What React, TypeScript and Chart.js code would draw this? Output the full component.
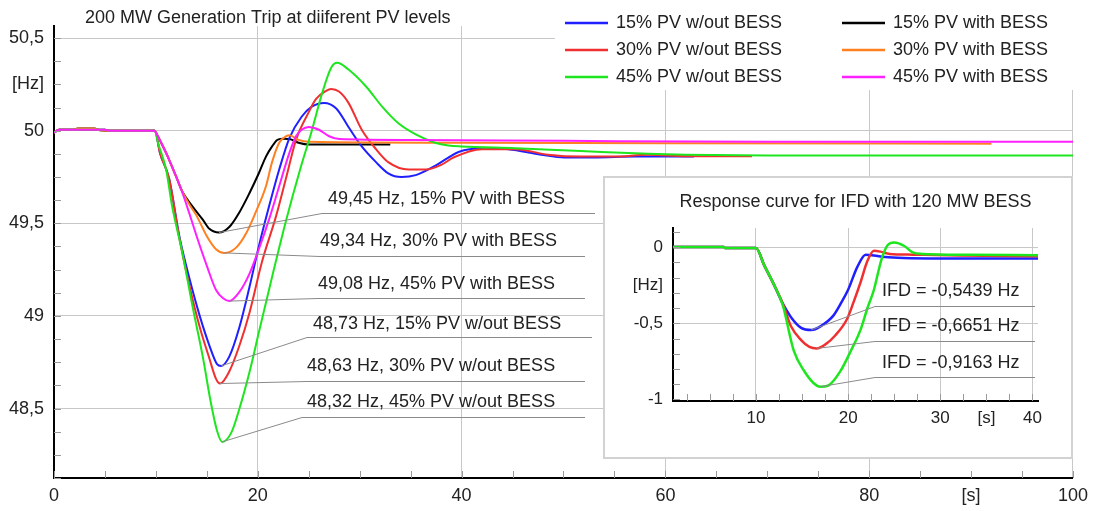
import React, { useEffect, useRef } from "react";
import { Chart, registerables } from "chart.js";
Chart.register(...registerables);

const FONT = '"Liberation Sans", Arial, Helvetica, sans-serif';
const TEXT = "#222222";

// ---------------- main chart data ----------------
const mainTitle = "200 MW Generation Trip at diiferent PV levels";
const seriesLabels = [
  "15% PV w/out BESS",
  "30% PV w/out BESS",
  "45% PV w/out BESS",
  "15% PV with BESS",
  "30% PV with BESS",
  "45% PV with BESS",
];
const seriesColors = ["#1f1fff", "#f03030", "#1ee61e", "#000000", "#ff8020", "#ff20ff"];

const t15NoBess = [0, 0.5, 5, 5.5, 9.9, 10.4, 11.3, 12.3, 13.3, 14.3, 15.25, 16.0, 16.4, 17.2, 18.2, 19.2, 20.1, 21.1, 22.1, 23.1, 24.3, 25.3, 26.5, 27.7, 28.9, 30.2, 31.6, 32.8, 34.1, 35.5, 37.4, 38.7, 39.7, 42, 44.6, 47.8, 50.1, 53, 57, 62.8];
const f15NoBess = [49.99, 50.005, 50.005, 50.0, 50.0, 49.88, 49.74, 49.43, 49.2, 49.0, 48.84, 48.74, 48.73, 48.78, 48.94, 49.16, 49.375, 49.59, 49.79, 49.96, 50.075, 50.13, 50.15, 50.12, 50.02, 49.915, 49.83, 49.77, 49.75, 49.76, 49.81, 49.855, 49.885, 49.905, 49.9, 49.87, 49.855, 49.855, 49.86, 49.86];

const t30NoBess = [0, 0.5, 5, 5.5, 9.9, 10.4, 11.3, 12.3, 13.3, 14.3, 15.25, 15.9, 16.3, 17.2, 18.2, 19.2, 20.4, 21.8, 22.8, 23.75, 25.0, 25.7, 26.7, 27.2, 28.0, 28.9, 30.2, 31.6, 32.8, 34.8, 36.5, 38.0, 39.2, 42, 45.3, 48.5, 51.7, 55, 58.3, 62, 68.5];
const f30NoBess = [49.99, 50.005, 50.005, 50.0, 50.0, 49.88, 49.74, 49.42, 49.16, 48.94, 48.77, 48.66, 48.635, 48.7, 48.84, 49.02, 49.29, 49.54, 49.75, 49.95, 50.1, 50.17, 50.215, 50.225, 50.21, 50.15, 50.005, 49.9, 49.83, 49.79, 49.79, 49.815, 49.855, 49.9, 49.9, 49.87, 49.86, 49.86, 49.87, 49.862, 49.862];

const t45NoBess = [0, 0.5, 5, 5.5, 9.9, 10.2, 11.0, 11.6, 12.6, 13.6, 14.6, 15.4, 16.0, 16.5, 17.4, 18.2, 19.2, 20.1, 21.4, 22.8, 24.2, 25.3, 26.3, 27.2, 27.8, 28.9, 30.6, 32.2, 33.8, 35.5, 37.4, 38.7, 40, 45.3, 51.7, 58.3, 62, 70, 100];
const f45NoBess = [49.99, 50.005, 50.005, 50.0, 50.0, 49.935, 49.79, 49.59, 49.34, 49.05, 48.78, 48.53, 48.38, 48.32, 48.37, 48.5, 48.7, 48.91, 49.21, 49.52, 49.8, 50.0, 50.2, 50.34, 50.366, 50.33, 50.24, 50.13, 50.04, 49.98, 49.935, 49.92, 49.915, 49.905, 49.89, 49.875, 49.87, 49.866, 49.866];

const t15Bess = [0, 0.5, 2, 2.3, 4, 4.3, 5.5, 9.9, 10.0, 11.0, 12.0, 12.6, 13.6, 14.6, 15.25, 16.2, 17.2, 18.2, 19.2, 20.1, 20.8, 21.4, 21.9, 22.4, 23.1, 24.0, 25, 33];
const f15Bess = [49.99, 50.005, 50.005, 50.012, 50.012, 50.005, 50.0, 50.0, 49.99, 49.88, 49.75, 49.67, 49.59, 49.52, 49.47, 49.45, 49.48, 49.56, 49.665, 49.77, 49.86, 49.915, 49.95, 49.957, 49.955, 49.935, 49.925, 49.925];

const t30Bess = [0, 0.5, 2, 2.3, 4, 4.3, 5.5, 9.9, 10.0, 11.0, 12.0, 12.6, 13.3, 14.0, 15.0, 15.9, 16.7, 17.9, 18.9, 19.8, 20.8, 21.4, 22.1, 22.8, 23.1, 24.0, 25, 40, 60, 92];
const f30Bess = [49.99, 50.005, 50.005, 50.012, 50.012, 50.005, 50.0, 50.0, 49.99, 49.88, 49.75, 49.67, 49.6, 49.54, 49.43, 49.36, 49.34, 49.37, 49.45, 49.56, 49.7, 49.83, 49.935, 49.97, 49.975, 49.95, 49.94, 49.935, 49.932, 49.93];

const t45Bess = [0, 0.5, 5, 5.5, 9.9, 10.0, 11.0, 12.0, 12.6, 13.3, 14.0, 15.0, 15.9, 16.6, 17.2, 18.2, 19.2, 20.1, 21.1, 22.1, 23.1, 23.75, 24.3, 25.0, 26.0, 27.0, 28.0, 35, 50, 70, 100];
const f45Bess = [49.99, 50.005, 50.005, 50.0, 50.0, 49.99, 49.88, 49.75, 49.665, 49.55, 49.43, 49.27, 49.14, 49.095, 49.08, 49.13, 49.23, 49.36, 49.52, 49.7, 49.88, 49.97, 50.005, 50.02, 50.005, 49.97, 49.955, 49.95, 49.945, 49.94, 49.94];

const mainTimes = [t15NoBess, t30NoBess, t45NoBess, t15Bess, t30Bess, t45Bess];
const mainValues = [f15NoBess, f30NoBess, f45NoBess, f15Bess, f30Bess, f45Bess];
const mainDrawOrder = [4, 3, 1, 5, 2, 0];

const xTickValues = [0, 20, 40, 60, 80, 90, 100];
const xTickLabels = ["0", "20", "40", "60", "80", "[s]", "100"];
const yTickValues = [48.5, 49, 49.5, 50, 50.25, 50.5];
const yTickLabels = ["48,5", "49", "49,5", "50", "[Hz]", "50,5"];

const minSeries = [3, 4, 5, 0, 1, 2];
const minLabels = [
  "49,45 Hz, 15% PV with BESS",
  "49,34 Hz, 30% PV with BESS",
  "49,08 Hz, 45% PV with BESS",
  "48,73 Hz, 15% PV w/out BESS",
  "48,63 Hz, 30% PV w/out BESS",
  "48,32 Hz, 45% PV w/out BESS",
];

// ---------------- inset data ----------------
const insetTitle = "Response curve for IFD with 120 MW BESS";
const insetColors = ["#1f1fff", "#f03030", "#1ee61e"];

const tIfd15 = [1, 6.5, 6.7, 10, 10.9, 11.9, 12.9, 13.8, 14.9, 16.0, 17.0, 18.4, 19.3, 20.0, 21.0, 21.9, 22.8, 24, 26, 30, 40.6];
const dIfd15 = [0, 0, -0.007, -0.007, -0.12, -0.24, -0.37, -0.46, -0.53, -0.544, -0.52, -0.45, -0.36, -0.28, -0.13, -0.05, -0.055, -0.065, -0.072, -0.075, -0.075];

const tIfd30 = [1, 6.5, 6.7, 10, 10.9, 11.9, 12.9, 13.8, 14.9, 15.8, 16.6, 17.5, 18.6, 19.9, 20.6, 21.3, 22.1, 22.8, 23.5, 24.5, 27, 32, 40.6];
const dIfd30 = [0, 0, -0.007, -0.007, -0.12, -0.24, -0.37, -0.52, -0.61, -0.655, -0.665, -0.64, -0.58, -0.47, -0.36, -0.24, -0.09, -0.025, -0.03, -0.045, -0.05, -0.055, -0.06];

const tIfd45 = [1, 6.5, 6.7, 10, 10.9, 11.9, 12.9, 14.1, 15.2, 16.3, 17.0, 17.8, 19.2, 20.3, 21.3, 22.1, 22.8, 23.6, 24.3, 25.0, 26.1, 27.0, 28, 33, 40.6];
const dIfd45 = [0, 0, -0.007, -0.007, -0.12, -0.24, -0.38, -0.68, -0.81, -0.895, -0.916, -0.91, -0.81, -0.68, -0.55, -0.4, -0.28, -0.085, 0.013, 0.03, 0.007, -0.035, -0.045, -0.05, -0.053];

const insetTimes = [tIfd15, tIfd30, tIfd45];
const insetValues = [dIfd15, dIfd30, dIfd45];
const insetDrawOrder = [2, 1, 0];
const ifdLabels = ["IFD = -0,5439 Hz", "IFD = -0,6651 Hz", "IFD = -0,9163 Hz"];

const insetXTickValues = [10, 20, 30, 35, 40];
const insetXTickLabels = ["10", "20", "30", "[s]", "40"];
const insetYTickValues = [-1, -0.5, -0.25, 0];
const insetYTickLabels = ["-1", "-0,5", "[Hz]", "0"];

// ---------------- layout (pixels) ----------------
const mainAnnotLayout = [
  { tx: 328, ty: 199, ly: 213, lx0: 322, lx1: 595 },
  { tx: 320, ty: 241, ly: 256, lx0: 320, lx1: 585 },
  { tx: 318, ty: 284, ly: 298, lx0: 318, lx1: 585 },
  { tx: 313, ty: 324, ly: 337, lx0: 307, lx1: 592 },
  { tx: 307, ty: 366, ly: 381, lx0: 307, lx1: 585 },
  { tx: 307, ty: 402, ly: 417, lx0: 302, lx1: 585 },
];
const insetAnnotLayout = [
  { tx: 277, ty: 113, ly: 128, lx0: 270, lx1: 430 },
  { tx: 277, ty: 148, ly: 163, lx0: 270, lx1: 430 },
  { tx: 277, ty: 185, ly: 199, lx0: 270, lx1: 430 },
];

function toPoints(ts: number[], vs: number[]) {
  return ts.map((t, i) => ({ x: t, y: vs[i] }));
}

function minorTicks(id: string, xFrom: number, xStep: number, xCount: number, yFrom: number, yStep: number, yCount: number) {
  return {
    id,
    afterDatasetsDraw(chart: any) {
      const { ctx, chartArea, scales } = chart;
      ctx.save();
      ctx.strokeStyle = "#9a9a9a";
      ctx.lineWidth = 1;
      ctx.beginPath();
      for (let k = 0; k < xCount; k++) {
        const px = Math.round(scales.x.getPixelForValue(xFrom + k * xStep)) + 0.5;
        ctx.moveTo(px, chartArea.bottom);
        ctx.lineTo(px, chartArea.bottom - 7);
      }
      for (let k = 0; k < yCount; k++) {
        const py = Math.round(scales.y.getPixelForValue(yFrom + k * yStep)) + 0.5;
        ctx.moveTo(chartArea.left, py);
        ctx.lineTo(chartArea.left + 7, py);
      }
      ctx.stroke();
      ctx.restore();
    },
  };
}

function minAnnotations(id: string, seriesIdx: number[], labels: string[], layout: any[]) {
  return {
    id,
    afterDatasetsDraw(chart: any) {
      const { ctx, scales } = chart;
      ctx.save();
      seriesIdx.forEach((si, k) => {
        const data = chart.data.datasets[si].data as { x: number; y: number }[];
        let m = data[0];
        data.forEach((p) => {
          if (p.y < m.y) m = p;
        });
        const px = scales.x.getPixelForValue(m.x);
        const py = scales.y.getPixelForValue(m.y);
        const L = layout[k];
        ctx.strokeStyle = "#8a8a8a";
        ctx.lineWidth = 1;
        ctx.beginPath();
        ctx.moveTo(px, py);
        ctx.lineTo(L.lx0, L.ly + 0.5);
        ctx.lineTo(L.lx1, L.ly + 0.5);
        ctx.stroke();
        ctx.fillStyle = TEXT;
        ctx.font = `18px ${FONT}`;
        ctx.textAlign = "left";
        ctx.textBaseline = "middle";
        ctx.fillText(labels[k], L.tx, L.ty);
      });
      ctx.restore();
    },
  };
}

const mainDecor = {
  id: "mainDecor",
  afterDraw(chart: any) {
    const { ctx } = chart;
    ctx.save();
    ctx.fillStyle = TEXT;
    ctx.font = `18px ${FONT}`;
    ctx.textBaseline = "middle";
    ctx.textAlign = "left";
    ctx.fillText(mainTitle, 85, 18);
    // legend box
    ctx.fillStyle = "#ffffff";
    ctx.fillRect(555, 0, 540, 90);
    const cols = [
      [0, 1, 2],
      [3, 4, 5],
    ];
    const colX = [565, 842];
    const rowY = [23, 50, 77];
    cols.forEach((col, c) => {
      col.forEach((si, r) => {
        const y = rowY[r];
        ctx.strokeStyle = chart.data.datasets[si].borderColor;
        ctx.lineWidth = 2.5;
        ctx.beginPath();
        ctx.moveTo(colX[c], y);
        ctx.lineTo(colX[c] + 43, y);
        ctx.stroke();
        ctx.fillStyle = TEXT;
        ctx.fillText(chart.data.datasets[si].label, colX[c] + 51, y);
      });
    });
    ctx.restore();
  },
};

const insetDecor = {
  id: "insetDecor",
  afterDraw(chart: any) {
    const { ctx, chartArea } = chart;
    ctx.save();
    ctx.fillStyle = TEXT;
    ctx.font = `18px ${FONT}`;
    ctx.textBaseline = "middle";
    ctx.textAlign = "center";
    ctx.fillText(insetTitle, (chartArea.left + chartArea.right) / 2, 24);
    ctx.restore();
  },
};

function makeMainConfig(): any {
  return {
    type: "line",
    data: {
      datasets: seriesLabels.map((label, i) => ({
        label,
        data: toPoints(mainTimes[i], mainValues[i]),
        borderColor: seriesColors[i],
        backgroundColor: seriesColors[i],
        borderWidth: 2,
        pointRadius: 0,
        fill: false,
        cubicInterpolationMode: "monotone",
        order: mainDrawOrder[i],
      })),
    },
    options: {
      responsive: false,
      animation: false,
      events: [],
      layout: { padding: { top: 26, right: 15, bottom: 0, left: 0 } },
      plugins: { legend: { display: false }, title: { display: false }, tooltip: { enabled: false } },
      scales: {
        x: {
          type: "linear",
          min: 0,
          max: 100,
          afterBuildTicks: (s: any) => {
            s.ticks = xTickValues.map((v) => ({ value: v }));
          },
          afterFit: (s: any) => {
            s.height = 33;
          },
          ticks: {
            autoSkip: false,
            maxRotation: 0,
            padding: 7,
            color: TEXT,
            font: { family: FONT, size: 18 },
            callback: (_v: any, i: number) => xTickLabels[i],
          },
          grid: {
            drawTicks: false,
            lineWidth: 1,
            color: (c: any) => (c.tick && (c.tick.value === 0 || c.tick.value === 90) ? "rgba(0,0,0,0)" : "#c8c8c8"),
          },
          border: { color: "#000", width: 2 },
        },
        y: {
          type: "linear",
          min: 48.125,
          max: 50.565,
          afterBuildTicks: (s: any) => {
            s.ticks = yTickValues.map((v) => ({ value: v }));
          },
          afterFit: (s: any) => {
            s.width = 54;
          },
          ticks: {
            autoSkip: false,
            padding: 10,
            color: TEXT,
            font: { family: FONT, size: 18 },
            callback: (_v: any, i: number) => yTickLabels[i],
          },
          grid: {
            drawTicks: false,
            lineWidth: 1,
            color: (c: any) => (c.tick && c.tick.value === 50.25 ? "rgba(0,0,0,0)" : "#c8c8c8"),
          },
          border: { color: "#000", width: 2 },
        },
      },
    },
    plugins: [
      minorTicks("mainMinor", 0, 5, 21, 48.125, 0.125, 20),
      minAnnotations("mainAnnot", minSeries, minLabels, mainAnnotLayout),
      mainDecor,
    ],
  };
}

function makeInsetConfig(): any {
  return {
    type: "line",
    data: {
      datasets: insetTimes.map((ts, i) => ({
        label: ifdLabels[i],
        data: toPoints(ts, insetValues[i]),
        borderColor: insetColors[i],
        borderWidth: 2.5,
        pointRadius: 0,
        fill: false,
        cubicInterpolationMode: "monotone",
        order: insetDrawOrder[i],
      })),
    },
    options: {
      responsive: false,
      animation: false,
      events: [],
      layout: { padding: { top: 50, right: 33, bottom: 0, left: 0 } },
      plugins: { legend: { display: false }, title: { display: false }, tooltip: { enabled: false } },
      scales: {
        x: {
          type: "linear",
          min: 1,
          max: 40.6,
          afterBuildTicks: (s: any) => {
            s.ticks = insetXTickValues.map((v) => ({ value: v }));
          },
          afterFit: (s: any) => {
            s.height = 56;
          },
          ticks: {
            autoSkip: false,
            maxRotation: 0,
            padding: 7,
            color: TEXT,
            font: { family: FONT, size: 17 },
            callback: (_v: any, i: number) => insetXTickLabels[i],
          },
          grid: {
            drawTicks: false,
            lineWidth: 1,
            color: (c: any) => (c.tick && c.tick.value === 35 ? "rgba(0,0,0,0)" : "#c8c8c8"),
          },
          border: { color: "#000", width: 2 },
        },
        y: {
          type: "linear",
          min: -1.01,
          max: 0.125,
          afterBuildTicks: (s: any) => {
            s.ticks = insetYTickValues.map((v) => ({ value: v }));
          },
          afterFit: (s: any) => {
            s.width = 68;
          },
          ticks: {
            autoSkip: false,
            padding: 10,
            color: TEXT,
            font: { family: FONT, size: 17 },
            callback: (_v: any, i: number) => insetYTickLabels[i],
          },
          grid: {
            drawTicks: false,
            lineWidth: 1,
            color: (c: any) => (c.tick && (c.tick.value === -0.25 || c.tick.value === -1) ? "rgba(0,0,0,0)" : "#c8c8c8"),
          },
          border: { color: "#000", width: 2 },
        },
      },
    },
    plugins: [
      minorTicks("insetMinor", 2.5, 2.5, 16, -1, 0.1, 12),
      minAnnotations("insetAnnot", [0, 1, 2], ifdLabels, insetAnnotLayout),
      insetDecor,
    ],
  };
}

export default function App() {
  const mainRef = useRef<HTMLCanvasElement>(null);
  const insetRef = useRef<HTMLCanvasElement>(null);
  useEffect(() => {
    const c1 = new Chart(mainRef.current as HTMLCanvasElement, makeMainConfig());
    const c2 = new Chart(insetRef.current as HTMLCanvasElement, makeInsetConfig());
    return () => {
      c1.destroy();
      c2.destroy();
    };
  }, []);
  return (
    <div style={{ position: "fixed", left: 0, top: 0, width: 1095, height: 511, background: "#fff" }}>
      <canvas ref={mainRef} width={1095} height={511} style={{ position: "absolute", left: 0, top: 0 }} />
      <div
        style={{
          position: "absolute",
          left: 603,
          top: 176,
          width: 470,
          height: 283,
          boxSizing: "border-box",
          border: "2px solid #d2d2d2",
          background: "#fff",
        }}
      >
        <canvas ref={insetRef} width={466} height={279} style={{ display: "block" }} />
      </div>
    </div>
  );
}
